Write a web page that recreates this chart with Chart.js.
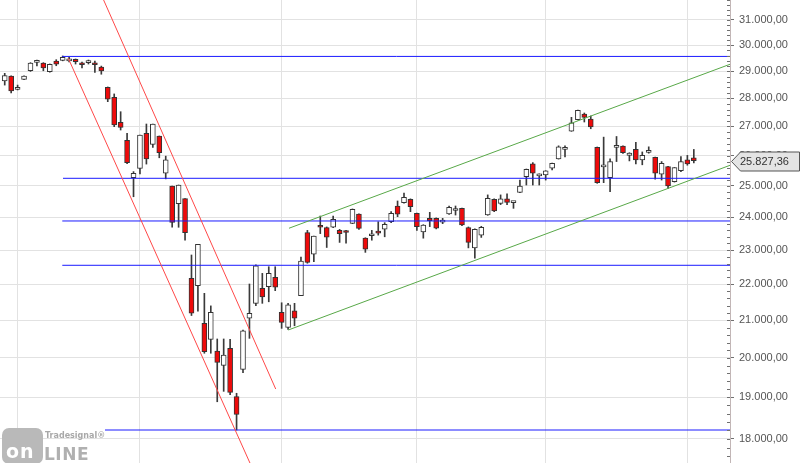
<!DOCTYPE html>
<html><head><meta charset="utf-8">
<script src="https://cdn.jsdelivr.net/npm/chart.js@4.4.0/dist/chart.umd.min.js"></script>
<style>
html,body{margin:0;padding:0;background:#fff;overflow:hidden;}
#wrap{position:relative;width:800px;height:463px;}
canvas{display:block;}
#logo{position:absolute;left:2px;top:428px;width:110px;height:35px;}
#logo .box{position:absolute;left:0;top:0;width:41px;height:36px;background:#b9b9b9;border-radius:7px;}
#logo .on{position:absolute;left:4px;top:13px;color:#fff;font:bold 19px "DejaVu Sans";letter-spacing:1px;line-height:20px;}
#logo .brand{position:absolute;left:43px;top:3px;color:#a8a8a8;font:bold 8px "DejaVu Sans";line-height:9px;}
#logo .line{position:absolute;left:42px;top:17px;color:#b0b0b0;font:bold 17px "DejaVu Sans";line-height:18px;letter-spacing:0.5px;}
</style></head><body>
<div id="wrap"><canvas id="c" width="800" height="463"></canvas>
<div id="logo"><div class="box"></div><span class="on">on</span><span class="brand">Tradesignal®</span><span class="line">LINE</span></div>
</div>
<script>
// trading days (first entry = day -2 relative to 3 Feb 2020)
const FIRST_DAY = -2;
const dates = [
 '2020-01-30','2020-01-31',
 '2020-02-03','2020-02-04','2020-02-05','2020-02-06','2020-02-07','2020-02-10','2020-02-11','2020-02-12','2020-02-13','2020-02-14',
 '2020-02-18','2020-02-19','2020-02-20','2020-02-21','2020-02-24','2020-02-25','2020-02-26','2020-02-27','2020-02-28',
 '2020-03-02','2020-03-03','2020-03-04','2020-03-05','2020-03-06','2020-03-09','2020-03-10','2020-03-11','2020-03-12','2020-03-13',
 '2020-03-16','2020-03-17','2020-03-18','2020-03-19','2020-03-20','2020-03-23','2020-03-24','2020-03-25','2020-03-26','2020-03-27',
 '2020-03-30','2020-03-31',
 '2020-04-01','2020-04-02','2020-04-03','2020-04-06','2020-04-07','2020-04-08','2020-04-09','2020-04-13','2020-04-14','2020-04-15',
 '2020-04-16','2020-04-17','2020-04-20','2020-04-21','2020-04-22','2020-04-23','2020-04-24','2020-04-27','2020-04-28','2020-04-29','2020-04-30',
 '2020-05-01','2020-05-04','2020-05-05','2020-05-06','2020-05-07','2020-05-08','2020-05-11','2020-05-12','2020-05-13','2020-05-14',
 '2020-05-15','2020-05-18','2020-05-19','2020-05-20','2020-05-21','2020-05-22','2020-05-26','2020-05-27','2020-05-28','2020-05-29',
 '2020-06-01','2020-06-02','2020-06-03','2020-06-04','2020-06-05','2020-06-08','2020-06-09','2020-06-10','2020-06-11','2020-06-12',
 '2020-06-15','2020-06-16','2020-06-17','2020-06-18','2020-06-19','2020-06-22','2020-06-23','2020-06-24','2020-06-25','2020-06-26',
 '2020-06-29','2020-06-30',
 '2020-07-01','2020-07-02'
];
const opens = [28643,28820,
 28330,28700,29024,29340,29316,28987,29390,29419,29400,29457,29280,29330,29316,29165,28405,28042,27146,26517,25265,
 25573,26759,26380,26668,25415,24992,24427,24587,22173,21961,20914,20485,20177,19805,20248,19018,19702,21054,21464,21888,21933,22200,
 21216,20805,21259,21677,23525,22874,23730,23680,23690,23595,23560,23811,24101,23357,23430,23540,23629,23860,24353,24458,24567,
 24121,23545,23966,23966,23850,24101,24210,24279,23680,23065,23448,24069,24567,24438,24577,24460,24787,25299,25720,25321,
 25354,25576,25889,26207,26837,27238,27440,27262,26276,25620,25267,26280,26320,26006,26207,25854,26110,25943,25376,25629,25134,25496,
 25854,25923];
const highs = [28928,28830,
 28489,28830,29330,29431,29330,29280,29443,29585,29534,29470,29354,29431,29390,29200,28420,28164,27522,26759,25464,
 26702,27086,27086,26668,25981,24992,25025,24587,22853,23173,21745,21393,20494,20494,20485,19100,20730,22009,22560,22315,22508,22508,
 21480,21464,21464,22788,23595,23424,24038,23700,24038,23625,23595,24260,24110,23370,23595,23860,23832,24174,24512,24761,24580,
 24130,23770,24153,23980,23966,24353,24353,24290,23700,23640,23720,24706,24580,24706,24738,24490,25186,25550,25763,25390,
 25495,25750,26330,26330,27322,27580,27476,27370,26290,26629,25890,26651,26330,26095,26452,26122,26296,25950,25798,25640,25600,25965,
 26006,26207];
const lows = [28489,28200,
 28310,28690,29000,29202,29024,28970,29213,29400,29354,29278,29128,29278,28964,28893,27882,26993,26876,25725,24647,
 25390,25714,26279,25925,25225,23690,23690,23296,21127,21249,20118,20118,18891,19148,19066,18211,19618,20511,21400,21464,21507,21820,
 20778,20750,20848,21677,22610,22657,23496,23077,23680,23229,23210,23800,23625,22931,23296,23450,23399,23832,24018,24440,24174,
 23595,23357,23710,23640,23800,24090,24069,23740,23065,22762,23380,24060,24174,24397,24397,24279,24780,25025,25025,25025,
 25186,25520,25880,25950,26830,27230,27157,26920,25080,25101,24806,25798,26070,25820,25720,25690,26080,25219,25187,24917,25120,25463,
 25676,25753];
const closes = [28838,28270,
 28405,28820,29316,29381,29128,29268,29268,29534,29440,29366,29250,29354,29250,29013,27969,27051,26970,25759,25409,
 26702,25889,27086,26100,25854,23843,25025,23525,21189,23173,20158,21216,19883,20067,19124,18581,20715,21189,22537,21644,22315,21916,
 20941,21419,21054,22676,22637,23424,23690,23387,23935,23496,23530,24249,23655,23030,23470,23510,23782,24121,24093,24631,24331,
 23710,23760,23891,23659,23870,24310,24225,23760,23229,23629,23690,24599,24196,24577,24470,24475,24992,25542,25409,25376,
 25486,25743,26296,26276,27131,27571,27318,26980,25101,25640,25798,26300,26100,26086,25854,26006,26130,25415,25743,24992,25596,25798,
 25720,25827.36];

const yTicks = [18000,19000,20000,21000,22000,23000,24000,25000,26000,27000,28000,29000,30000,31000];
const lastClose = 25827.36;

// horizontal support / resistance levels: [value, from trading day]
const levelValues = [29568, 25244, 23884, 22550, 18211];
const levelStarts = [6.94, 7.05, 6.94, 6.94, 13.57];
// trend lines: [day, value] pairs
const redChannelLower = [[7.87, 29497], [36.57, 17290]];
const redChannelUpper = [[12.53, 32315], [40.08, 19206]];
const greenChannelUpper = [[42.14, 23660], [112.2, 29413]];
const greenChannelLower = [[42.03, 20734], [112.2, 25800]];

const X_MIN = -2.733, X_MAX = 110.62, Y_MIN = 17448, Y_MAX = 31814;

function fmtDE(v, dec){
  const s = Number(v).toFixed(dec);
  let [i, f] = s.split('.');
  i = i.replace(/\B(?=(\d{3})+(?!\d))/g, '.');
  return f ? i + ',' + f : i;
}

const days = dates.map((d, i) => i + FIRST_DAY);
const monthStarts = days.filter((x, i) => i > 0 && dates[i].slice(5,7) !== dates[i-1].slice(5,7));

const wickData = days.map((x, i) => ({x, y: [lows[i], highs[i]]}));
const bodyData = days.map((x, i) => ({x, y: [opens[i], closes[i]]}));
const bodyColors = days.map((x, i) => closes[i] >= opens[i] ? '#ffffff' : '#ee0a0a');

const lineDs = (pts, color) => ({
  type: 'line', data: pts.map(p => ({x: p[0], y: p[1]})), borderColor: color, borderWidth: 1,
  pointRadius: 0, tension: 0, fill: false, order: 0
});

const datasets = [
  {type: 'bar', data: wickData, backgroundColor: '#3a3a3a', borderWidth: 0, barThickness: 1, grouped: false, order: 3},
  {type: 'bar', data: bodyData, backgroundColor: bodyColors, borderColor: '#333333', borderWidth: 1,
   borderSkipped: false, barThickness: 5, minBarLength: 2, grouped: false, order: 2},
  lineDs(redChannelLower, '#ff4848'),
  lineDs(redChannelUpper, '#ff4848'),
  lineDs(greenChannelUpper, '#58a848'),
  lineDs(greenChannelLower, '#58a848'),
  ...levelValues.map((v, k) => lineDs([[levelStarts[k], v], [X_MAX + 2, v]], '#1a1aff'))
];

const axisDecor = {
  id: 'axisDecor',
  afterDraw(chart){
    const y = chart.scales.y, c = chart.ctx;
    c.save();
    c.strokeStyle = '#707070'; c.lineWidth = 1;
    for (let v = 17600; v <= Y_MAX; v += 200){
      const p = Math.round(y.getPixelForValue(v)) + 0.5;
      c.beginPath(); c.moveTo(y.left - 3, p); c.lineTo(y.left, p); c.stroke();
    }
    const py = Math.round(y.getPixelForValue(lastClose)) + 0.5;
    const x0 = y.left + 1.5, x1 = x0 + 9, x2 = 799.5, h = 9.5;
    c.beginPath();
    c.moveTo(x0, py); c.lineTo(x1, py - h); c.lineTo(x2, py - h); c.lineTo(x2, py + h); c.lineTo(x1, py + h); c.closePath();
    c.fillStyle = '#e4e4e4'; c.fill();
    c.strokeStyle = '#555'; c.stroke();
    c.fillStyle = '#333'; c.font = '11px "Liberation Sans"'; c.textBaseline = 'middle'; c.textAlign = 'left';
    c.fillText(fmtDE(lastClose, 2), 740, py + 0.5);
    c.restore();
  }
};

new Chart(document.getElementById('c'), {
  type: 'bar',
  data: {datasets},
  options: {
    responsive: false, animation: false, devicePixelRatio: 1,
    layout: {padding: 0},
    plugins: {legend: {display: false}, tooltip: {enabled: false}},
    scales: {
      x: {type: 'linear', min: X_MIN, max: X_MAX, offset: false,
          ticks: {display: false}, grid: {color: '#e2e2e2', drawTicks: false, offset: false}, border: {display: false},
          afterBuildTicks: s => { s.ticks = monthStarts.map(v => ({value: v})); },
          afterFit: s => { s.height = 0; s.paddingLeft = 0; s.paddingRight = 0; }},
      y: {type: 'logarithmic', position: 'right', min: Y_MIN, max: Y_MAX,
          afterBuildTicks: s => { s.ticks = yTicks.map(v => ({value: v})); },
          afterFit: s => { s.width = 70; s.paddingTop = 0; s.paddingBottom = 0; },
          ticks: {callback: v => fmtDE(v, 2), color: '#555', font: {family: 'Liberation Sans', size: 11}, padding: 5, autoSkip: false},
          grid: {color: '#e2e2e2', tickLength: 4, tickColor: '#707070'},
          border: {color: '#c2b6b6'}}
    }
  },
  plugins: [axisDecor]
});
</script>
</body></html>
